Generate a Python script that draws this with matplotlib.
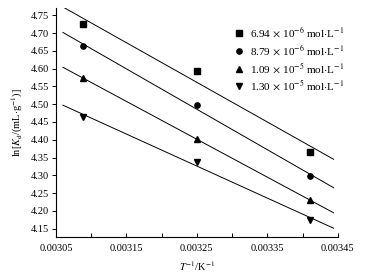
import numpy as np
import matplotlib
matplotlib.use("Agg")
import matplotlib.pyplot as plt
from matplotlib.ticker import FixedLocator

plt.rcParams["font.family"] = ["Liberation Serif", "DejaVu Serif"]
plt.rcParams["mathtext.fontset"] = "stix"
plt.rcParams["font.size"] = 7.5

# inverse temperature (1/K)
x = [0.003089, 0.003250, 0.003411]

labels = [
    r"6.94$\,\times\,$10$^{-6}$ mol$\cdot$L$^{-1}$",
    r"8.79$\,\times\,$10$^{-6}$ mol$\cdot$L$^{-1}$",
    r"1.09$\,\times\,$10$^{-5}$ mol$\cdot$L$^{-1}$",
    r"1.30$\,\times\,$10$^{-5}$ mol$\cdot$L$^{-1}$",
]
y_694 = [4.725, 4.593, 4.366]
y_879 = [4.663, 4.497, 4.297]
y_109 = [4.573, 4.401, 4.230]
y_130 = [4.465, 4.338, 4.175]
series = [y_694, y_879, y_109, y_130]
markers = ["s", "o", "^", "v"]

fig = plt.figure(figsize=(3.75, 2.8), dpi=100)
ax = fig.add_axes([0.149, 0.154, 0.752, 0.817])

xf = np.array([0.00306, 0.003444])
for ys, m, lab in zip(series, markers, labels):
    ax.plot(x, ys, linestyle="none", marker=m, color="black", markersize=3.8, label=lab)
    k, b = np.polyfit(x, ys, 1)
    ax.plot(xf, k * xf + b, color="black", linewidth=0.7)

ax.set_xlim(0.00305, 0.00345)
ax.set_ylim(4.127, 4.77)

ax.xaxis.set_major_locator(FixedLocator([0.00305, 0.00315, 0.00325, 0.00335, 0.00345]))
ax.xaxis.set_minor_locator(FixedLocator([0.0031, 0.0032, 0.0033, 0.0034]))
ax.xaxis.set_major_formatter(plt.FuncFormatter(lambda v, p: f"{v:.5f}"))
ax.yaxis.set_major_locator(FixedLocator(np.round(np.arange(4.15, 4.751, 0.05), 2)))
ax.yaxis.set_major_formatter(plt.FuncFormatter(lambda v, p: f"{v:.2f}"))

ax.tick_params(axis="x", which="both", direction="in", length=3, width=0.7, pad=5)
ax.tick_params(axis="y", direction="out", length=3, width=0.7, pad=2)

for s in ["top", "right"]:
    ax.spines[s].set_visible(False)
for s in ["left", "bottom"]:
    ax.spines[s].set_linewidth(0.8)

ax.set_xlabel(r"$T^{-1}$/K$^{-1}$", labelpad=5)
ax.set_ylabel(r"ln[$K_\mathrm{d}$/(mL$\cdot$g$^{-1}$)]", labelpad=4)

ax.legend(loc="upper left", bbox_to_anchor=(0.625, 0.908), bbox_transform=fig.transFigure,
          frameon=False, handlelength=0.8, handletextpad=0.6, labelspacing=0.3,
          borderpad=0, borderaxespad=0, fontsize=8)

fig.savefig("out.png", dpi=100)
